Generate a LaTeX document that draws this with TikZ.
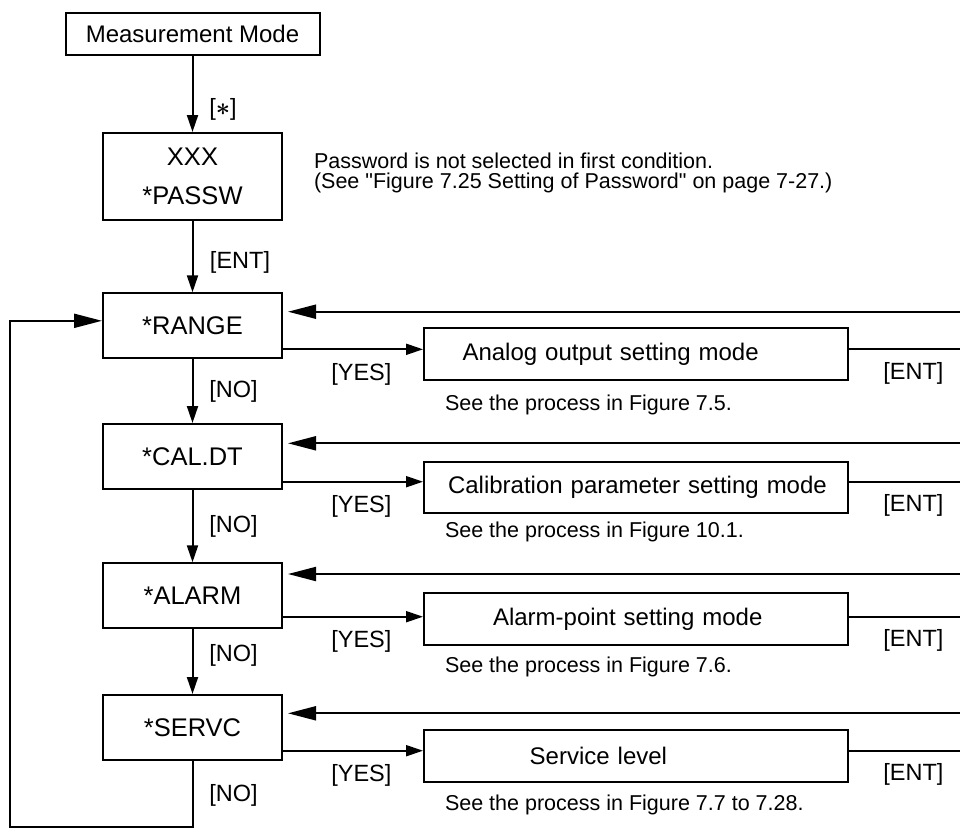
\documentclass[tikz,border=0pt]{standalone}
\usepackage{fontspec}
\setmainfont{Liberation Sans}
\usetikzlibrary{arrows.meta,positioning}
\tikzset{
  mbox/.style={draw,minimum width=179pt,minimum height=65pt,inner sep=0pt,
               align=center,font=\fontsize{25.5}{39}\selectfont},
  sbox/.style={draw,minimum height=52pt,text width=404pt,inner xsep=10pt,
               inner ysep=0pt,align=left,font=\fontsize{24}{28}\selectfont},
  flow/.style={-{Triangle[length=17pt,width=11pt]}},
  flowb/.style={-{Triangle[length=28pt,width=14pt]},shorten >=5pt},
  lbl/.style={font=\fontsize{23.5}{28}\selectfont,inner sep=0pt},
  note/.style={font=\fontsize{21.5}{20}\selectfont,inner sep=0pt,anchor=west,align=left},
}
\begin{document}
\begin{tikzpicture}[x=1pt,y=-1pt,line width=2pt]
  \useasboundingbox (0,0) rectangle (960,828);
  % y grows downwards, as on the page
  \node[mbox,minimum width=254pt,minimum height=42pt,font=\fontsize{24}{28}\selectfont]
    (meas) at (192.5,34) {Measurement Mode};
  \node[mbox,minimum height=87pt] (passw) at (192.5,176.5) {XXX\\*PASSW};
  \node[note] (pwnote) at (313,172.7)
    {Password is not selected in first condition.\\(See \textquotedbl Figure 7.25 Setting of Password\textquotedbl{} on page 7-27.)};

  \node[mbox] (range) at (192.5,325.8) {*RANGE};
  \node[mbox] (caldt) at (192.5,456.5) {*CAL.DT};
  \node[mbox] (alarm) at (192.5,595.8) {*ALARM};
  \node[mbox] (servc) at (192.5,727.5) {*SERVC};

  \node[sbox] (analog) at (636,354) {\hspace*{28.5pt}Analog output setting mode};
  \node[sbox,minimum height=51pt] (calib) at (636,487.5) {\hspace*{14pt}Calibration parameter setting mode};
  \node[sbox] (alpt) at (636,619) {\hspace*{59pt}Alarm-point setting mode};
  \node[sbox] (servlv) at (636,756) {\hspace*{95.7pt}Service level};

  \node[note] (seeA) at (444,405) {See the process in Figure 7.5.};
  \node[note] (seeB) at (444,532) {See the process in Figure 10.1.};
  \node[note] (seeC) at (444,666.7) {See the process in Figure 7.6.};
  \node[note] (seeD) at (444,805) {See the process in Figure 7.7 to 7.28.};

  % main column
  \draw[flow] (meas) -- node[lbl,pos=0.705,xshift=30.5pt]{[{\boldmath$\ast$}]} (passw);
  \draw[flow] (passw) -- node[lbl,pos=0.575,xshift=47.5pt]{[ENT]} (range);
  \draw[flow] (range) -- node[lbl,xshift=41pt]{[NO]} (caldt);
  \draw[flow] (caldt) -- node[lbl,xshift=41pt]{[NO]} (alarm);
  \draw[flow] (alarm) -- node[lbl,pos=0.4,xshift=41pt]{[NO]} (servc);

  % back to *RANGE
  \coordinate (loop) at (10,826.7);
  \draw[flowb,shorten >=0pt] (servc.south) -- node[lbl,pos=0.52,xshift=41pt]{[NO]}
    (servc.south |- loop) -- (loop) |- ([yshift=5pt]range.west);

  % YES branches and the ENT returns (they leave the picture on the right)
  \foreach \m/\s/\by/\oy in {range/analog/311.7/349.3, caldt/calib/443.3/481.7,
                             alarm/alpt/574/616.7, servc/servlv/713.3/750.7}{
    \coordinate (back) at (960,\by);
    \coordinate (out) at (960,\oy);
    \draw[flowb] (back) -- (back -| \m.east);
    \draw[flow] (out -| \m.east) -- node[lbl,pos=0.56,yshift=-25pt]{[YES]} (out -| \s.west);
    \draw (out -| \s.east) -- node[lbl,pos=0.58,yshift=-24pt]{[ENT]} (out);
  }
\end{tikzpicture}
\end{document}
